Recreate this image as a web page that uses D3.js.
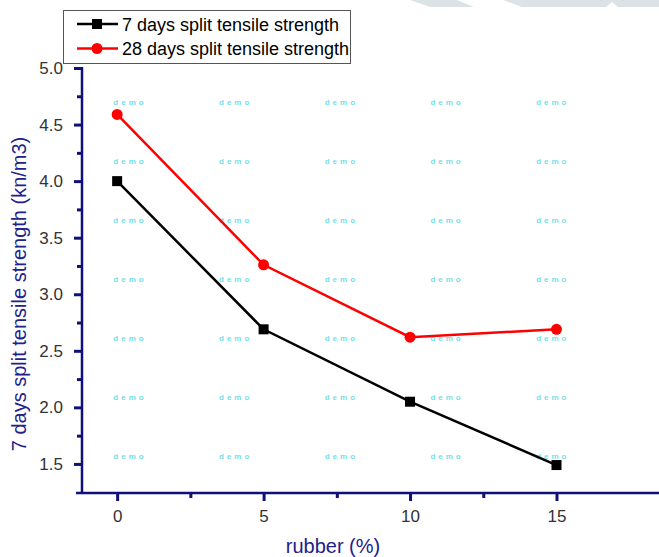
<!DOCTYPE html>
<html>
<head>
<meta charset="utf-8">
<script src="https://d3js.org/d3.v7.min.js"></script>
<style>
  body { margin: 0; background: #fff; }
  svg text { font-family: "Liberation Sans", Arial, sans-serif; }
</style>
</head>
<body>
<div id="chart"></div>
<script>
var rubber = [0, 5, 10, 15];
var days7 = [4.0, 2.69, 2.05, 1.49];
var days28 = [4.59, 3.26, 2.62, 2.69];
var seriesNames = ["7 days split tensile strength", "28 days split tensile strength"];
var yTicks = [1.5, 2.0, 2.5, 3.0, 3.5, 4.0, 4.5, 5.0];
var xTicks = [0, 5, 10, 15];

var W = 659, H = 557;
var navy = "#10107a";
var svg = d3.select("#chart").append("svg").attr("width", W).attr("height", H);

// grey decoration at the top edge of the page
svg.append("g").selectAll("polygon")
  .data([
    [[410,0],[457,0],[474,7],[430,7]],
    [[503,0],[659,0],[659,7],[618,7],[612,2],[606,7],[522,7]]
  ])
  .enter().append("polygon")
  .attr("points", function(d) { return d.join(" "); })
  .attr("fill", "#dce3e6");

var x = d3.scaleLinear().domain([-1.2, 18.5]).range([82, 659]);
var y = d3.scaleLinear().domain([1.243, 5.0]).range([493, 68]);

// watermark
var wm = svg.append("g");
for (var r = 0; r < 7; r++) {
  for (var c = 0; c < 5; c++) {
    wm.append("text")
      .attr("x", 130 + c * 105.7)
      .attr("y", 105 + r * 59)
      .attr("text-anchor", "middle")
      .attr("font-size", 8)
      .attr("font-weight", "bold")
      .attr("letter-spacing", 3)
      .attr("fill", "#74dfe8")
      .text("demo");
  }
}

function styleAxis(g) {
  g.select(".domain").remove();
  g.selectAll(".tick line").attr("stroke", navy).attr("stroke-width", 3);
  g.selectAll(".tick text").attr("fill", "#333").attr("font-size", 17)
    .attr("font-family", "Liberation Sans, Arial, sans-serif");
}

// y axis
svg.append("g").attr("transform", "translate(82,0)")
  .call(d3.axisLeft(y).tickValues(yTicks).tickFormat(d3.format(".1f")).tickSize(8).tickPadding(11))
  .call(styleAxis);
svg.append("g").attr("transform", "translate(82,0)")
  .call(d3.axisLeft(y).tickValues(d3.range(1.75, 5, 0.5)).tickFormat("").tickSize(5))
  .call(styleAxis);
svg.append("line").attr("x1", 82).attr("x2", 82).attr("y1", 67).attr("y2", 494)
  .attr("stroke", navy).attr("stroke-width", 2.5);

// x axis
svg.append("g").attr("transform", "translate(0,493)")
  .call(d3.axisBottom(x).tickValues(xTicks).tickSize(8).tickPadding(9))
  .call(styleAxis);
svg.append("g").attr("transform", "translate(0,493)")
  .call(d3.axisBottom(x).tickValues([2.5, 7.5, 12.5]).tickFormat("").tickSize(5))
  .call(styleAxis);
svg.append("line").attr("x1", 76).attr("x2", 659).attr("y1", 493).attr("y2", 493)
  .attr("stroke", navy).attr("stroke-width", 2.5);

// axis titles
svg.append("text").attr("x", 333).attr("y", 553).attr("text-anchor", "middle")
  .attr("font-size", 20).attr("fill", "#22228a").text("rubber (%)");
svg.append("text").attr("transform", "translate(26,294) rotate(-90)").attr("text-anchor", "middle")
  .attr("font-size", 20).attr("fill", "#22228a").text("7 days split tensile strength (kn/m3)");

// series
var line = d3.line().x(function(d) { return x(d[0]); }).y(function(d) { return y(d[1]); });
var series = [
  { name: seriesNames[0], values: d3.zip(rubber, days7), color: "#000", shape: "square" },
  { name: seriesNames[1], values: d3.zip(rubber, days28), color: "#f00", shape: "circle" }
];

function marker(g, shape, color) {
  if (shape === "square") {
    g.append("rect").attr("x", -5).attr("y", -5).attr("width", 10).attr("height", 10).attr("fill", color);
  } else {
    g.append("circle").attr("r", 5.5).attr("fill", color);
  }
}

series.forEach(function(s) {
  svg.append("path").datum(s.values).attr("d", line)
    .attr("fill", "none").attr("stroke", s.color).attr("stroke-width", 2.5);
  s.values.forEach(function(d) {
    var g = svg.append("g").attr("transform", "translate(" + x(d[0]) + "," + y(d[1]) + ")");
    marker(g, s.shape, s.color);
  });
});

// legend
var legend = svg.append("g");
legend.append("rect").attr("x", 63.5).attr("y", 10.5).attr("width", 287).attr("height", 53)
  .attr("fill", "#fff").attr("stroke", "#555").attr("stroke-width", 1);
series.forEach(function(s, i) {
  var cy = 24 + i * 24.5;
  legend.append("line").attr("x1", 77).attr("x2", 118).attr("y1", cy).attr("y2", cy)
    .attr("stroke", s.color).attr("stroke-width", 2.5);
  var g = legend.append("g").attr("transform", "translate(97," + cy + ")");
  marker(g, s.shape, s.color);
  legend.append("text").attr("x", 122).attr("y", cy + 6.5).attr("font-size", 18)
    .attr("fill", "#000").text(s.name);
});
</script>
</body>
</html>
